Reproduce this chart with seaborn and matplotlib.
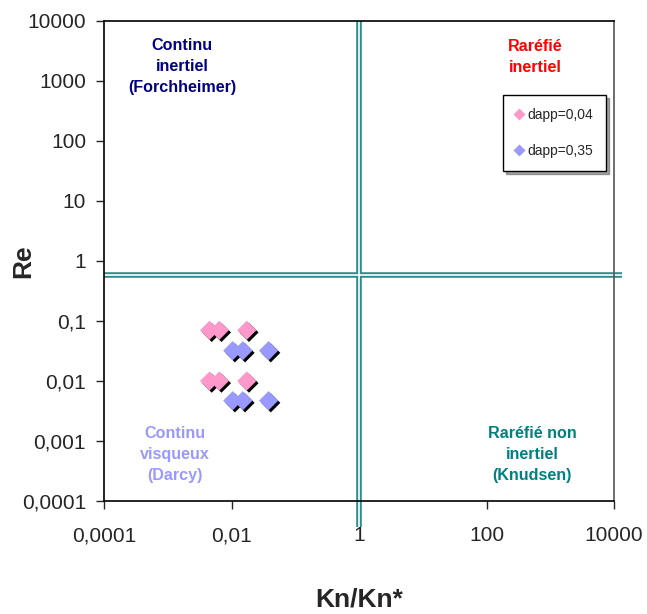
import matplotlib
matplotlib.use("Agg")
import matplotlib.pyplot as plt
import matplotlib.ticker as ticker
import matplotlib.transforms as mtransforms
import seaborn as sns
import pandas as pd

# values
kn_004 = [0.0045, 0.0064, 0.0173, 0.0045, 0.0064, 0.0173]
re_004 = [0.07, 0.07, 0.07, 0.01, 0.01, 0.01]
kn_035 = [0.0104, 0.015, 0.038, 0.0104, 0.015, 0.038]
re_035 = [0.032, 0.032, 0.032, 0.0047, 0.0047, 0.0047]
series = ["dapp=0,04", "dapp=0,35"]
kn_limit = 1.0
re_limit = 0.585
x_ticks = [1e-4, 1e-2, 1, 1e2, 1e4]
y_ticks = [1e-4, 1e-3, 1e-2, 1e-1, 1, 10, 100, 1000, 10000]

df = pd.DataFrame({
    "Kn": kn_004 + kn_035,
    "Re": re_004 + re_035,
    "serie": [series[0]] * len(kn_004) + [series[1]] * len(kn_035),
})

sns.set_style("white")
plt.rcParams['font.family'] = ['Liberation Sans', 'DejaVu Sans']

fig = plt.figure(figsize=(6.47, 6.14), dpi=100)
ax = fig.add_axes([0.161, 0.184, 0.788, 0.782])

# quadrant separators (double lines), a bit longer than the plot area like the original
for lw, col in [(4.0, '#2e8b8b'), (1.2, 'white')]:
    ax.axvline(kn_limit, ymin=-0.054, ymax=1.0, color=col, lw=lw, zorder=1,
               clip_on=False, solid_capstyle='butt')
    ax.axhline(re_limit, xmin=0.0, xmax=1.016, color=col, lw=lw, zorder=1,
               clip_on=False, solid_capstyle='butt')

# black shadow under each marker, shifted down-right
shadow = mtransforms.offset_copy(ax.transData, fig=fig, x=2.2, y=-2.2, units='dots')
sns.scatterplot(data=df, x="Kn", y="Re", color='black', marker='D', s=95,
                edgecolor='none', ax=ax, zorder=2, legend=False, transform=shadow)
sns.scatterplot(data=df, x="Kn", y="Re", hue="serie", hue_order=series,
                palette=['#ff99cc', '#9999ff'], marker='D', s=95,
                edgecolor='none', ax=ax, zorder=3)

ax.set_xscale('log')
ax.set_yscale('log')
ax.set_xlim(1e-4, 1e4)
ax.set_ylim(1e-4, 1e4)
ax.xaxis.set_major_locator(ticker.FixedLocator(x_ticks))
ax.yaxis.set_major_locator(ticker.FixedLocator(y_ticks))
ax.xaxis.set_minor_locator(ticker.NullLocator())
ax.yaxis.set_minor_locator(ticker.NullLocator())

def comma_fmt(v, pos=None):
    return f"{v:g}".replace('.', ',')

ax.xaxis.set_major_formatter(ticker.FuncFormatter(comma_fmt))
ax.yaxis.set_major_formatter(ticker.FuncFormatter(comma_fmt))
ax.tick_params(axis='both', labelsize=15, direction='out', length=6, width=1,
               left=True, bottom=True)
ax.tick_params(axis='y', pad=7)
ax.tick_params(axis='x', pad=12)

for sp in ax.spines.values():
    sp.set_color('black')
    sp.set_linewidth(1.2)
ax.spines['right'].set_color('#555555')
ax.grid(False)

ax.set_xlabel("Kn/Kn*", fontsize=19, fontweight='bold')
ax.set_ylabel("Re", fontsize=19, fontweight='bold')
ax.xaxis.set_label_coords(0.5, -0.18)
ax.yaxis.set_label_coords(-0.135, 0.5)

txt = dict(transform=ax.transAxes, ha='center', va='center', fontsize=11.6,
           fontweight='bold', linespacing=1.5)
ax.text(0.153, 0.905, "Continu\ninertiel\n(Forchheimer)", color='#000080', **txt)
ax.text(0.845, 0.925, "Raréfié\ninertiel", color='red', **txt)
ax.text(0.138, 0.096, "Continu\nvisqueux\n(Darcy)", color='#9999ff', **txt)
ax.text(0.839, 0.096, "Raréfié non\ninertiel\n(Knudsen)", color='#008080', **txt)

leg = ax.legend(loc='upper left', bbox_to_anchor=(0.782, 0.846), borderaxespad=0,
                fontsize=10, frameon=True, fancybox=False, shadow=True,
                labelspacing=1.55, handletextpad=0.4, markerscale=0.6,
                borderpad=0.95, handlelength=0.4)
leg.get_frame().set_edgecolor('black')
leg.get_frame().set_linewidth(1.0)

fig.savefig("out.png", dpi=100)
